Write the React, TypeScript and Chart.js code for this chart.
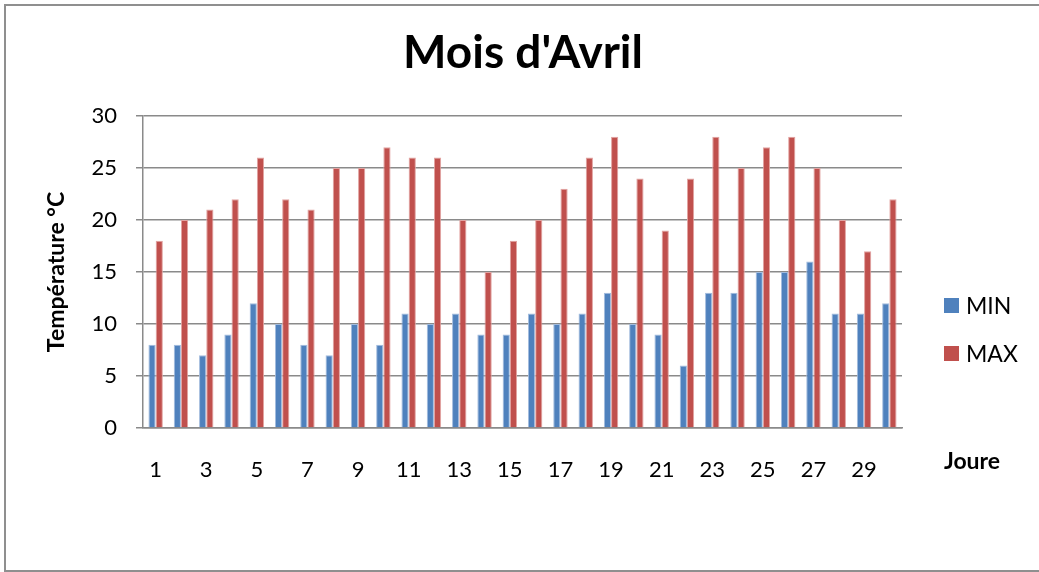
import React, { useEffect, useRef } from "react";
import { Chart, registerables } from "chart.js";

Chart.register(...registerables);

const days = [
  "1", "2", "3", "4", "5", "6", "7", "8", "9", "10",
  "11", "12", "13", "14", "15", "16", "17", "18", "19", "20",
  "21", "22", "23", "24", "25", "26", "27", "28", "29", "30",
];
const minValues = [8, 8, 7, 9, 12, 10, 8, 7, 10, 8, 11, 10, 11, 9, 9, 11, 10, 11, 13, 10, 9, 6, 13, 13, 15, 15, 16, 11, 11, 12];
const maxValues = [18, 20, 21, 22, 26, 22, 21, 25, 25, 27, 26, 26, 20, 15, 18, 20, 23, 26, 28, 24, 19, 24, 28, 25, 27, 28, 25, 20, 17, 22];
const seriesNames = ["MIN", "MAX"];
const chartTitle = "Mois d'Avril";
const yTitle = "Température °C";
const xTitle = "Joure";

const FONT = "Lato, 'Open Sans', sans-serif";
const GRID = "#8a8a8a";

const decorPlugin = {
  id: "decor",
  afterDraw(chart: any) {
    const ctx = chart.ctx;
    ctx.save();
    // frame
    ctx.strokeStyle = "#8f8f8f";
    ctx.lineWidth = 2;
    ctx.beginPath();
    ctx.moveTo(1039, 5);
    ctx.lineTo(5, 5);
    ctx.lineTo(5, 571);
    ctx.lineTo(1039, 571);
    ctx.stroke();
    // legend
    const ys = [305.5, 353.5];
    chart.data.datasets.forEach((ds: any, i: number) => {
      ctx.fillStyle = ds.backgroundColor;
      ctx.fillRect(944, ys[i] - 7.5, 15, 15);
      ctx.fillStyle = "#000";
      ctx.font = `23px ${FONT}`;
      ctx.textAlign = "left";
      ctx.textBaseline = "middle";
      ctx.fillText(ds.label, 966, ys[i] + 1);
    });
    // x axis title
    ctx.font = `bold 23px ${FONT}`;
    ctx.textAlign = "center";
    ctx.textBaseline = "middle";
    ctx.fillStyle = "#000";
    ctx.fillText(xTitle, 972, 462);
    ctx.restore();
  },
};

export default function App() {
  const ref = useRef<HTMLCanvasElement | null>(null);
  useEffect(() => {
    if (!ref.current) return;
    const chart = new Chart(ref.current, {
      type: "bar",
      data: {
        labels: days,
        datasets: [
          {
            label: seriesNames[0],
            data: minValues,
            backgroundColor: "#4F81BD",
            borderColor: "#A3BCDE",
            borderWidth: 1,
            borderSkipped: "bottom",
            categoryPercentage: 0.57,
            barPercentage: 1,
          },
          {
            label: seriesNames[1],
            data: maxValues,
            backgroundColor: "#C0504D",
            borderColor: "#E2A3A1",
            borderWidth: 1,
            borderSkipped: "bottom",
            categoryPercentage: 0.57,
            barPercentage: 1,
          },
        ],
      },
      options: {
        responsive: false,
        animation: false,
        layout: { padding: { left: 7, right: 0, top: 0, bottom: 0 } },
        plugins: {
          legend: { display: false },
          tooltip: { enabled: false },
          title: {
            display: true,
            text: chartTitle,
            color: "#000",
            font: { family: FONT, size: 46, weight: "bold" },
            padding: { top: 26, bottom: 34.8 },
          },
        },
        scales: {
          x: {
            grid: { display: false },
            border: { display: true, color: GRID, width: 1.5 },
            ticks: {
              color: "#000",
              font: { family: FONT, size: 22 },
              padding: 21,
              autoSkip: false,
              maxRotation: 0,
              callback: (_v: any, i: number) => (i % 2 === 0 ? days[i] : ""),
            },
            afterFit: (s: any) => {
              s.height = 144;
            },
          },
          y: {
            min: 0,
            max: 30,
            ticks: {
              stepSize: 5,
              color: "#000",
              font: { family: FONT, size: 22 },
              padding: 19,
            },
            grid: { color: GRID, lineWidth: 1.5, tickLength: 7, drawTicks: true },
            border: { display: true, color: GRID, width: 1.5 },
            title: {
              display: true,
              text: yTitle,
              color: "#000",
              font: { family: FONT, size: 23, weight: "bold" },
              padding: { top: 36, bottom: 0 },
            },
            afterFit: (s: any) => {
              s.width = 136;
            },
          },
          yR: {
            type: "linear",
            position: "right",
            display: true,
            grid: { display: false },
            border: { display: false },
            ticks: { display: false },
            afterFit: (s: any) => {
              s.width = 137;
            },
          },
        },
      },
      plugins: [decorPlugin],
    } as any);
    return () => chart.destroy();
  }, []);
  return (
    <div style={{ position: "absolute", left: 0, top: 0, width: 1039, height: 572, background: "#fff" }}>
      <canvas ref={ref} width={1039} height={572} style={{ display: "block" }} />
    </div>
  );
}
